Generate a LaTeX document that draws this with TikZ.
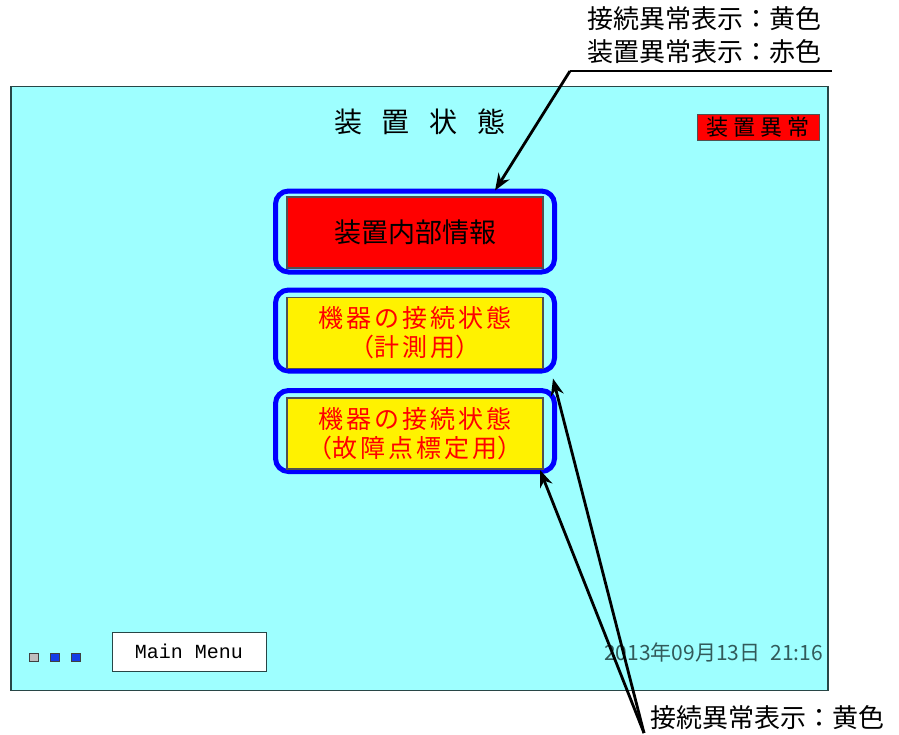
\documentclass[tikz,border=0pt]{standalone}
\usepackage{fontspec}
\setmainfont{Noto Sans CJK JP}
\newfontfamily\monofont{Liberation Mono}
\usetikzlibrary{arrows.meta,calc}
\definecolor{panel}{RGB}{158,255,255}
\definecolor{panelborder}{RGB}{40,70,70}
\definecolor{btnblue}{RGB}{0,0,255}
\definecolor{btnedge}{RGB}{80,80,80}
\definecolor{datecol}{RGB}{50,90,90}
\definecolor{sqblue}{RGB}{20,60,230}
\definecolor{sqgray}{RGB}{190,190,190}
\tikzset{
  frame/.style={draw=btnblue, line width=5pt, rounded corners=13pt, minimum width=279pt, minimum height=81pt, inner sep=0pt},
  btn/.style={draw=btnedge, line width=1.2pt, minimum width=256pt, minimum height=71pt, inner sep=0pt, align=center},
  redbtn/.style={btn, fill=red, font=\fontsize{27}{30}\selectfont},
  yelbtn/.style={btn, fill=yellow, text=red, font=\fontsize{25}{29}\selectfont},
  note/.style={font=\fontsize{26}{33}\selectfont, inner sep=0pt, align=right},
  pointer/.style={draw=black, line width=2.8pt, -{Stealth[length=17pt,width=13pt]}},
  sq/.style={draw=black!75, line width=0.8pt, minimum size=8.5pt, inner sep=0pt},
}
\begin{document}
\begin{tikzpicture}[x=1pt,y=-1pt]
\useasboundingbox[fill=white] (0,0) rectangle (899,734);
% screen panel
\node[draw=panelborder, line width=1.2pt, fill=panel, minimum width=817pt, minimum height=604pt, inner sep=0pt] (scr) at (419.5,388.5) {};
% title
\node[font=\fontsize{28}{30}\selectfont, inner sep=0pt] (title) at (420,122) {装\hspace{20pt}置\hspace{20pt}状\hspace{20pt}態};
% device error badge
\node[draw=btnedge, line width=1pt, fill=red, minimum width=122pt, minimum height=26pt, inner sep=0pt, font=\fontsize{22}{24}\selectfont] (err) at (758,127) {装\hspace{5pt}置\hspace{5pt}異\hspace{5pt}常};
% buttons
\node[frame] (b1) at (415,231.5) {};
\node[redbtn] (r1) at (415,232.5) {装置内部情報};
\node[frame] (b2) at (415,330.5) {};
\node[yelbtn] (y1) at (415,333) {機\hspace{3pt}器\hspace{3pt}の\hspace{3pt}接\hspace{3pt}続\hspace{3pt}状\hspace{3pt}態\\（計\hspace{3pt}測\hspace{3pt}用）};
\node[frame] (b3) at (415,431) {};
\node[yelbtn] (y2) at (415,433.5) {機\hspace{3pt}器\hspace{3pt}の\hspace{3pt}接\hspace{3pt}続\hspace{3pt}状\hspace{3pt}態\\（故\hspace{3pt}障\hspace{3pt}点\hspace{3pt}標\hspace{3pt}定\hspace{3pt}用）};
% bottom left
\node[sq, fill=sqgray] (s1) at (34,657.5) {};
\node[sq, fill=sqblue] (s2) at (55,657.5) {};
\node[sq, fill=sqblue] (s3) at (76,657.5) {};
\node[draw=panelborder, line width=1pt, fill=white, minimum width=154pt, minimum height=39pt, inner sep=0pt, font=\monofont\fontsize{20}{22}\selectfont] (menu) at (189,651.5) {Main Menu};
% date
\node[anchor=east, text=datecol, font=\fontsize{21}{22}\selectfont, inner sep=0pt] (date) at (823,652) {2013年09月13日\hspace{10pt}21:16};
% top annotation
\node[note, anchor=north east] (n1) at (822,6) {接続異常表示：黄色\\装置異常表示：赤色};
\coordinate (u1) at (832,71);
\coordinate (u2) at (570,71);
\draw[line width=2.8pt] (u1) -- (u2);
\draw[pointer] (u2) -- ([xshift=80pt,yshift=-2pt]b1.north);
% bottom annotation
\node[note, anchor=west] (n2) at (650,718) {接続異常表示：黄色};
\coordinate (v) at (644,733);
\draw[pointer] (v) -- ([xshift=-4pt,yshift=-5pt]b2.south east);
\draw[pointer] (v) -- ([xshift=-17pt,yshift=4pt]b3.south east);
\end{tikzpicture}
\end{document}
